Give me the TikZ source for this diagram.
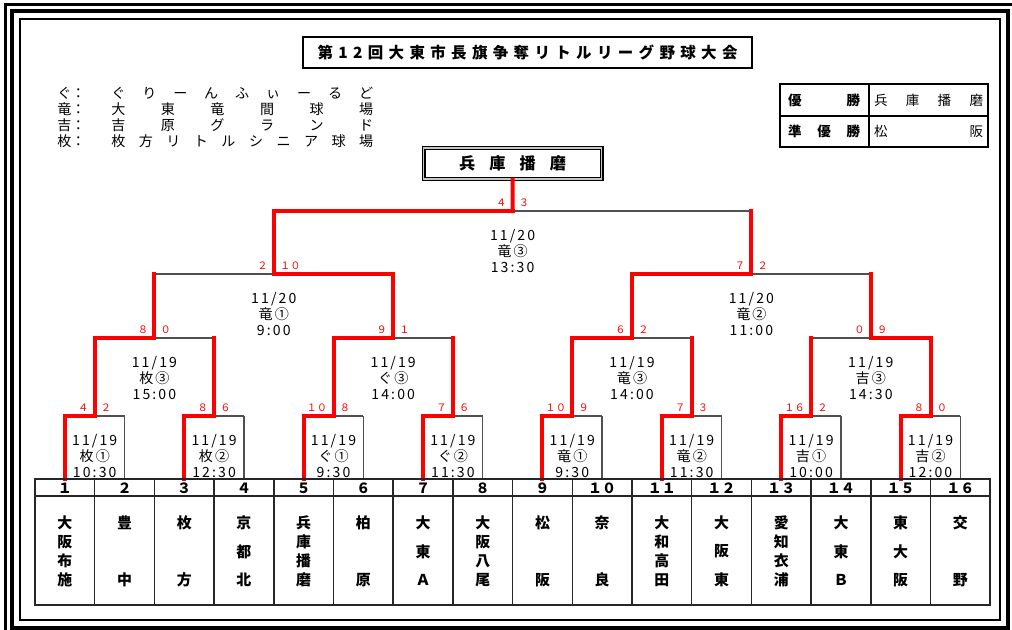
\documentclass[tikz,border=0pt]{standalone}
\usepackage{fontspec}
\setmainfont{Noto Sans CJK JP}
\newfontfamily\infofont[LetterSpace=15]{Noto Sans CJK JP}
\usetikzlibrary{positioning,calc}
\newlength{\pxu}
\setlength{\pxu}{0.025cm}
\definecolor{winred}{RGB}{255,0,0}
\definecolor{losegray}{RGB}{80,80,80}
\newcommand{\spread}[2]{\makebox[#1\pxu]{\foreach \c [count=\i] in {#2}{\ifnum\i>1 \hfill\fi\c}}}

\begin{document}
\begin{tikzpicture}[x=0.025cm,y=-0.025cm,
  win/.style={draw=winred,line width=4\pxu,line cap=rect},
  lose/.style={draw=losegray,line width=1.4\pxu},
  score/.style={text=winred,inner sep=0pt,font=\fontsize{7.3}{8}\selectfont},
  info/.style={inner sep=0pt,align=center,anchor=north,font=\infofont\fontsize{10}{11.34}\selectfont},
  teamno/.style={inner sep=0pt,font=\bfseries\fontsize{10}{12}\selectfont},
  teamch/.style={inner sep=0pt,font=\bfseries\fontsize{10.6}{12}\selectfont},
  legend/.style={inner sep=0pt,anchor=west,font=\fontsize{10}{11}\selectfont}]

\useasboundingbox (0,0) rectangle (1012,630);
\clip (0,0) rectangle (1012,630);

% frame
\draw[line width=3\pxu] (5,5) rectangle (1016,636);
\draw[line width=4\pxu] (11.5,11.5) rectangle (1007.5,628);
\draw[line width=2\pxu] (19.5,19.5) rectangle (1000,620);

% title
\node[draw,line width=1.5\pxu,minimum width=449\pxu,minimum height=31\pxu,inner sep=0pt,
  font=\bfseries\fontsize{11}{13}\selectfont] (title) at (527.5,52.5)
  {\spread{420}{第,1,2,回,大,東,市,長,旗,争,奪,リ,ト,ル,リ,ー,グ,野,球,大,会}};

% legend
\node[legend] (lg1) at (57,93) {ぐ：};
\node[legend] (lg1t) at (111,93) {\spread{262}{ぐ,り,ー,ん,ふ,ぃ,ー,る,ど}};
\node[legend] (lg2) at (57,109) {竜：};
\node[legend] (lg2t) at (111,109) {\spread{262}{大,東,竜,間,球,場}};
\node[legend] (lg3) at (57,125) {吉：};
\node[legend] (lg3t) at (111,125) {\spread{262}{吉,原,グ,ラ,ン,ド}};
\node[legend] (lg4) at (57,141) {枚：};
\node[legend] (lg4t) at (111,141) {\spread{262}{枚,方,リ,ト,ル,シ,ニ,ア,球,場}};

% winner table
\draw[line width=1.5\pxu] (780,84) rectangle (988,147);
\draw[line width=1.5\pxu] (869,84) -- (869,147) (780,116) -- (988,116);
\node[inner sep=0pt,font=\bfseries\fontsize{9.6}{11}\selectfont] (yusho) at (824,100) {\spread{72}{優,勝}};
\node[inner sep=0pt,font=\fontsize{9.6}{11}\selectfont] (yushoteam) at (928.5,100) {\spread{109}{兵,庫,播,磨}};
\node[inner sep=0pt,font=\bfseries\fontsize{9.6}{11}\selectfont] (junyusho) at (824,131) {\spread{72}{準,優,勝}};
\node[inner sep=0pt,font=\fontsize{9.6}{11}\selectfont] (junteam) at (928.5,131) {\spread{109}{松,阪}};

% champion
\node[draw,double=gray!45,double distance=1.5\pxu,line width=1.2\pxu,minimum width=178\pxu,
  minimum height=31\pxu,inner sep=0pt,font=\bfseries\fontsize{11.5}{13}\selectfont] (champ) at (512.6,163.5)
  {\spread{107}{兵,庫,播,磨}};

% bracket points
\foreach \k in {1,...,16} \coordinate (t\k) at ({35+59.7*(\k-0.5)},479);
\foreach \j in {1,...,8} \coordinate (a\j) at ({35+59.7*(2*\j-1)},416);
\foreach \j in {1,...,4} \coordinate (b\j) at ({35+59.7*(4*\j-2)},338);
\coordinate (c1) at ({35+59.7*4},274);
\coordinate (c2) at ({35+59.7*12},274);
\coordinate (f) at ({35+59.7*8},211);

% matches
\foreach \J/\W/\Lo/\vs/\sl/\sr/\dd/\v/\tm in {
  a1/t1/t2/lose/４/２/19/枚①/10:30, a2/t3/t4/lose/８/６/19/枚②/12:30,
  a3/t5/t6/lose/１０/８/19/ぐ①/9:30, a4/t7/t8/lose/７/６/19/ぐ②/11:30,
  a5/t9/t10/lose/１０/９/19/竜①/9:30, a6/t11/t12/lose/７/３/19/竜②/11:30,
  a7/t13/t14/lose/１６/２/19/吉①/10:00, a8/t15/t16/lose/８/０/19/吉②/12:00,
  b1/a1/a2/win/８/０/19/枚③/15:00, b2/a3/a4/win/９/１/19/ぐ③/14:00,
  b3/a5/a6/win/６/２/19/竜③/14:00, b4/a8/a7/win/０/９/19/吉③/14:30,
  c1/b2/b1/win/２/１０/20/竜①/9:00, c2/b3/b4/win/７/２/20/竜②/11:00,
  f/c1/c2/win/４/３/20/竜③/13:30}{
  \draw[lose] (\Lo |- \J) -- (\J);
  \draw[\vs] (\Lo) -- (\Lo |- \J);
  \draw[win] (\W) -- (\W |- \J) -- (\J);
  \node[score,anchor=base east,xshift=-6\pxu,yshift=5\pxu] (\J-sl) at (\J) {\sl};
  \node[score,anchor=base west,xshift=6\pxu,yshift=5\pxu] (\J-sr) at (\J) {\sr};
  \node[info,yshift=-18\pxu] (\J-info) at (\J) {11/\dd\\\v\\\tm};
}
\draw[win] (f) -- (champ.south);

% team table
\draw[line width=2\pxu,black!85] (35,479) rectangle (990,605);
\draw[line width=1.5\pxu,black!85] (35,496) -- (990,496);
\foreach \k in {1,...,15} \draw[line width=1.5\pxu,black!85] ({35+59.7*\k},479) -- ({35+59.7*\k},605);

\foreach \k/\no in {1/１,2/２,3/３,4/４,5/５,6/６,7/７,8/８,9/９,10/１０,11/１１,12/１２,13/１３,14/１４,15/１５,16/１６}
  \node[teamno] (n\k) at ({35+59.7*(\k-0.5)},488) {\no};

\foreach \k/\n/\nm in {1/4/{大,阪,布,施}, 2/2/{豊,中}, 3/2/{枚,方}, 4/3/{京,都,北},
  5/4/{兵,庫,播,磨}, 6/2/{柏,原}, 7/3/{大,東,Ａ}, 8/4/{大,阪,八,尾},
  9/2/{松,阪}, 10/2/{奈,良}, 11/4/{大,和,高,田}, 12/3/{大,阪,東},
  13/4/{愛,知,衣,浦}, 14/3/{大,東,Ｂ}, 15/3/{東,大,阪}, 16/2/{交,野}}
  \foreach \c [count=\j] in \nm
    \node[teamch] (nm\k-\j) at ({35+59.7*(\k-0.5)},{523+(\j-1)*57/(\n-1)}) {\c};
\end{tikzpicture}
\end{document}
